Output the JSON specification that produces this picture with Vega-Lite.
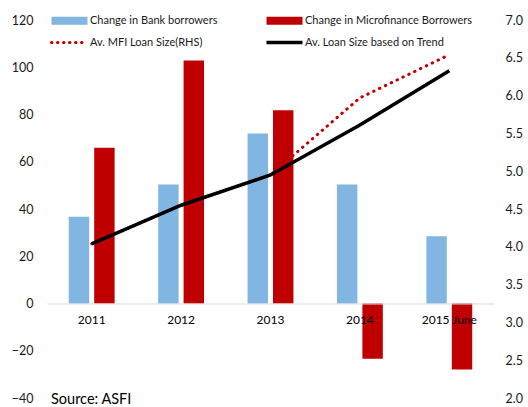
{
  "$schema": "https://vega.github.io/schema/vega-lite/v6.json",
  "width": 447,
  "height": 378,
  "autosize": {"type": "none"},
  "padding": {"left": 47, "top": 20, "right": 34, "bottom": 9},
  "config": {"font": "Lato", "view": {"stroke": null}},
  "title": {"text": "Source: ASFI", "orient": "bottom", "anchor": "start", "frame": "group", "fontSize": 14.5, "fontWeight": "normal", "color": "#000000", "baseline": "middle", "offset": -5, "dx": 4},
  "datasets": {
    "bars": [
      {"year": "2011", "series": "Change in Bank borrowers", "value": 36.7},
      {"year": "2012", "series": "Change in Bank borrowers", "value": 50.4},
      {"year": "2013", "series": "Change in Bank borrowers", "value": 72.0},
      {"year": "2014", "series": "Change in Bank borrowers", "value": 50.4},
      {"year": "2015 June", "series": "Change in Bank borrowers", "value": 28.5},
      {"year": "2011", "series": "Change in Microfinance Borrowers", "value": 65.9},
      {"year": "2012", "series": "Change in Microfinance Borrowers", "value": 102.9},
      {"year": "2013", "series": "Change in Microfinance Borrowers", "value": 81.8},
      {"year": "2014", "series": "Change in Microfinance Borrowers", "value": -23.4},
      {"year": "2015 June", "series": "Change in Microfinance Borrowers", "value": -27.9}
    ],
    "lines": [
      {"year": "2011", "series": "Av. MFI Loan Size(RHS)", "loan": 4.04},
      {"year": "2012", "series": "Av. MFI Loan Size(RHS)", "loan": 4.55},
      {"year": "2013", "series": "Av. MFI Loan Size(RHS)", "loan": 4.95},
      {"year": "2014", "series": "Av. MFI Loan Size(RHS)", "loan": 5.97},
      {"year": "2015 June", "series": "Av. MFI Loan Size(RHS)", "loan": 6.54},
      {"year": "2011", "series": "Av. Loan Size based on Trend", "loan": 4.04},
      {"year": "2012", "series": "Av. Loan Size based on Trend", "loan": 4.55},
      {"year": "2013", "series": "Av. Loan Size based on Trend", "loan": 4.95},
      {"year": "2014", "series": "Av. Loan Size based on Trend", "loan": 5.61},
      {"year": "2015 June", "series": "Av. Loan Size based on Trend", "loan": 6.33}
    ]
  },
  "layer": [
    {
      "data": {"name": "bars"},
      "mark": {"type": "bar"},
      "encoding": {
        "x": {
          "field": "year", "type": "nominal", "sort": null,
          "scale": {"paddingInner": 0.487, "paddingOuter": 0.2435},
          "axis": {"title": null, "labelAngle": 0, "orient": "bottom", "offset": -94.5, "domainColor": "#d9d9d9", "domainWidth": 1, "ticks": false, "tickSize": 0, "labelPadding": 11, "labelFontSize": 12, "labelColor": "#000000", "zindex": 1, "grid": false, "labelOverlap": false}
        },
        "xOffset": {
          "field": "series", "type": "nominal",
          "sort": ["Change in Bank borrowers", "Change in Microfinance Borrowers"],
          "scale": {"paddingInner": 0.196}
        },
        "y": {
          "field": "value", "type": "quantitative",
          "scale": {"domain": [-40, 120], "nice": false, "zero": false},
          "axis": {"title": null, "orient": "left", "values": [-40, -20, 0, 20, 40, 60, 80, 100, 120], "domain": false, "ticks": false, "tickSize": 0, "grid": false, "labelPadding": 14, "labelFontSize": 12.5, "labelColor": "#1a1a1a", "labelOverlap": false}
        },
        "color": {
          "field": "series", "type": "nominal",
          "scale": {
            "domain": ["Change in Bank borrowers", "Change in Microfinance Borrowers", "Av. MFI Loan Size(RHS)", "Av. Loan Size based on Trend"],
            "range": ["#82b6e2", "#c00000", "#c00000", "#000000"]
          },
          "legend": {
            "title": null, "orient": "none", "legendX": 3, "legendY": -6, "direction": "horizontal",
            "columns": 2, "gridAlign": "all", "columnPadding": 2, "rowPadding": 8, "padding": 0,
            "labelFontSize": 11, "labelColor": "#1a1a1a", "labelOffset": 29, "labelLimit": 300,
            "symbolSize": 64, "symbolStrokeWidth": 0,
            "encode": {
              "symbols": {
                "update": {
                  "shape": {"signal": "datum.value === 'Change in Bank borrowers' || datum.value === 'Change in Microfinance Borrowers' ? 'M-1,-1H8V1H-1Z' : 'M-1,0H8'"},
                  "fill": {"signal": "datum.value === 'Change in Bank borrowers' ? '#82b6e2' : (datum.value === 'Change in Microfinance Borrowers' ? '#c00000' : 'transparent')"},
                  "stroke": {"signal": "datum.value === 'Av. MFI Loan Size(RHS)' ? '#c00000' : (datum.value === 'Av. Loan Size based on Trend' ? '#000000' : 'transparent')"},
                  "strokeDash": {"signal": "datum.value === 'Av. MFI Loan Size(RHS)' ? [0.5, 5.5] : [1, 0]"},
                  "strokeCap": {"signal": "datum.value === 'Av. MFI Loan Size(RHS)' ? 'round' : 'butt'"},
                  "strokeWidth": {"signal": "datum.value === 'Av. MFI Loan Size(RHS)' ? 3 : (datum.value === 'Av. Loan Size based on Trend' ? 3.5 : 0)"},
                  "size": {"value": 64},
                  "opacity": {"value": 1}
                }
              }
            }
          }
        }
      }
    },
    {
      "data": {"name": "lines"},
      "encoding": {
        "x": {"field": "year", "type": "nominal", "sort": null},
        "y": {
          "field": "loan", "type": "quantitative",
          "scale": {"domain": [2, 7], "nice": false, "zero": false},
          "axis": {"title": null, "orient": "right", "values": [2, 2.5, 3, 3.5, 4, 4.5, 5, 5.5, 6, 6.5, 7], "format": ".1f", "domain": false, "ticks": false, "tickSize": 0, "grid": false, "labelPadding": 11, "labelFontSize": 12.5, "labelColor": "#1a1a1a", "labelOverlap": false}
        },
        "color": {"field": "series", "type": "nominal"}
      },
      "layer": [
        {
          "transform": [{"filter": "datum.series === 'Av. MFI Loan Size(RHS)'"}],
          "mark": {"type": "line", "strokeDash": [0.5, 6], "strokeCap": "round", "strokeWidth": 3}
        },
        {
          "transform": [{"filter": "datum.series === 'Av. Loan Size based on Trend'"}],
          "mark": {"type": "line", "strokeWidth": 3.5}
        }
      ]
    }
  ],
  "resolve": {"scale": {"y": "independent"}}
}
